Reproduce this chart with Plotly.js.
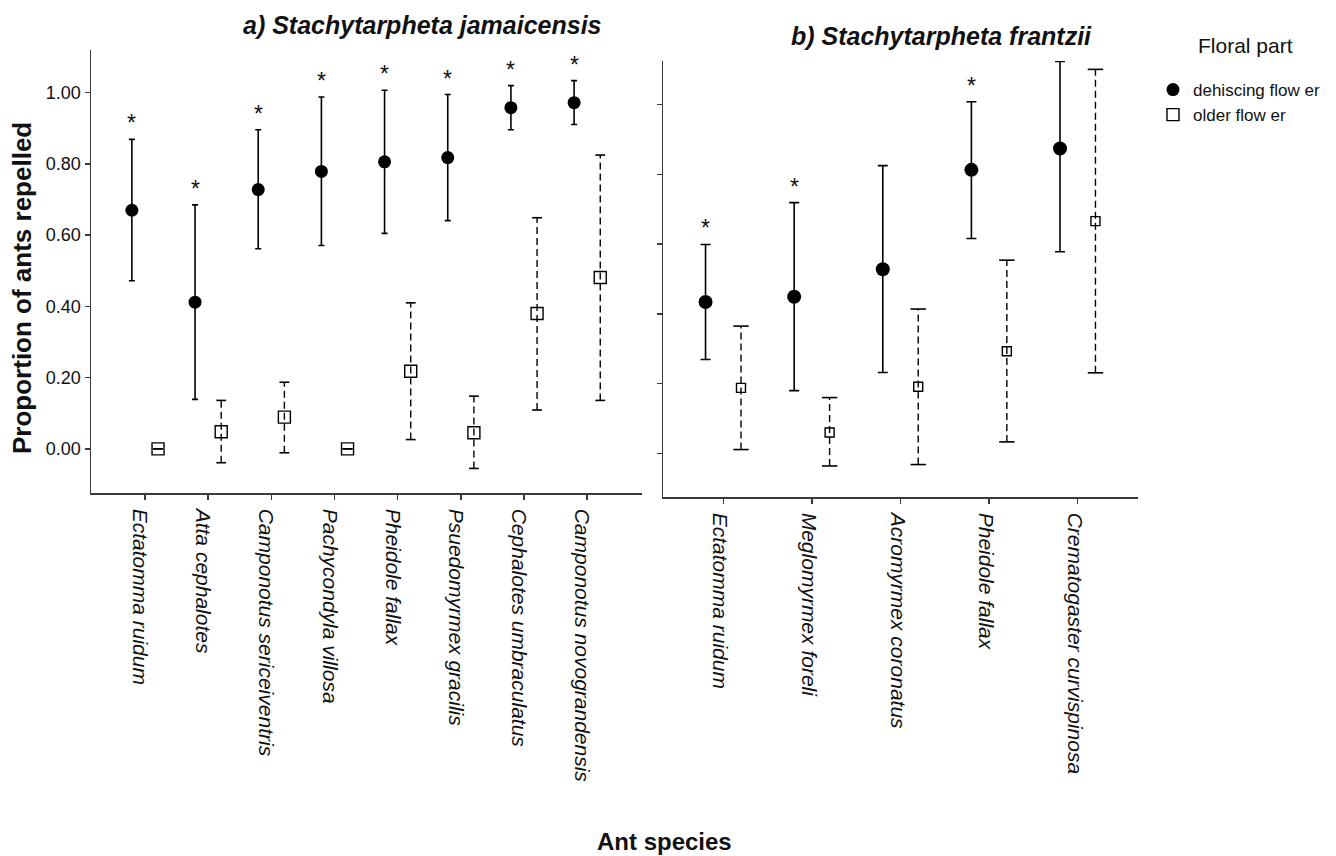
<!DOCTYPE html>
<html>
<head>
<meta charset="utf-8">
<script src="https://cdn.plot.ly/plotly-3.0.1.min.js"></script>
<style>
  html, body { margin: 0; padding: 0; background: #fff; }
  #chart { width: 1336px; height: 856px; }
</style>
</head>
<body>
<div id="chart"></div>
<script>
// ---------- Data ----------
const leftTitle = "a) Stachytarpheta jamaicensis";
const rightTitle = "b) Stachytarpheta frantzii";

const leftSpecies = ["Ectatomma ruidum", "Atta cephalotes", "Camponotus sericeiventris", "Pachycondyla villosa",
                     "Pheidole fallax", "Psuedomyrmex gracilis", "Cephalotes umbraculatus", "Camponotus novograndensis"];
const leftDehMean = [0.670, 0.412, 0.728, 0.779, 0.806, 0.818, 0.958, 0.972];
const leftDehLow  = [0.472, 0.139, 0.562, 0.571, 0.605, 0.641, 0.896, 0.911];
const leftDehHigh = [0.869, 0.685, 0.896, 0.988, 1.007, 0.995, 1.020, 1.034];
const leftOldMean = [0.000, 0.048, 0.089, 0.000, 0.218, 0.045, 0.380, 0.481];
const leftOldLow  = [0.000, -0.039, -0.011, 0.000, 0.026, -0.055, 0.109, 0.136];
const leftOldHigh = [0.000, 0.136, 0.187, 0.000, 0.410, 0.148, 0.649, 0.825];
const leftSig     = [true, true, true, true, true, true, true, true];

const rightSpecies = ["Ectatomma ruidum", "Meglomyrmex foreli", "Acromyrmex coronatus", "Pheidole fallax",
                      "Crematogaster curvispinosa"];
const rightDehMean = [0.434, 0.449, 0.528, 0.813, 0.874];
const rightDehLow  = [0.269, 0.180, 0.232, 0.616, 0.578];
const rightDehHigh = [0.599, 0.719, 0.825, 1.008, 1.124];
const rightOldMean = [0.188, 0.060, 0.191, 0.293, 0.666];
const rightOldLow  = [0.011, -0.036, -0.032, 0.033, 0.231];
const rightOldHigh = [0.365, 0.160, 0.414, 0.554, 1.101];
const rightSig     = [true, true, false, true, false];

const yTickVals = [0, 0.2, 0.4, 0.6, 0.8, 1.0];
const seriesNames = ["dehiscing flow er", "older flow er"];
const legendTitle = "Floral part";
const yTitle = "Proportion of ants repelled";
const xTitle = "Ant species";

// ---------- Helpers ----------
const W = 1336, H = 856;
const FONT = "Liberation Sans, Arial, Helvetica, sans-serif";
const INK = "#111";
const AXC = "#3a3a3a";

function idx(arr) { return arr.map((_, i) => i); }

function buildPanel(o) {
  const xa = o.xaxis, ya = o.yaxis;
  const ix = idx(o.species);
  const dehX = ix.map(i => i - o.offset);
  const oldX = ix.map(i => i + o.offset);
  const traces = [];
  // dehiscing flower: filled circles with solid CI bars
  traces.push({
    type: "scatter", mode: "markers", xaxis: xa, yaxis: ya,
    x: dehX, y: o.dehMean, name: seriesNames[0], legendgroup: "deh",
    showlegend: o.showLegend, cliponaxis: false, hoverinfo: "skip",
    marker: { symbol: "circle", size: o.circleSize, color: "#000" },
    error_y: {
      type: "data", symmetric: false,
      array: o.dehHigh.map((h, i) => h - o.dehMean[i]),
      arrayminus: o.dehMean.map((m, i) => m - o.dehLow[i]),
      color: "#000", thickness: 1.6, width: o.capHalf
    }
  });
  // older flower: dashed CI lines
  const lx = [], ly = [];
  ix.forEach(i => { lx.push(oldX[i], oldX[i], null); ly.push(o.oldLow[i], o.oldHigh[i], null); });
  traces.push({
    type: "scatter", mode: "lines", xaxis: xa, yaxis: ya, x: lx, y: ly,
    showlegend: false, cliponaxis: false, hoverinfo: "skip", legendgroup: "old",
    line: { color: "#000", width: 1.4, dash: "7px,4px" }
  });
  // older flower: caps
  traces.push({
    type: "scatter", mode: "markers", xaxis: xa, yaxis: ya,
    x: oldX.concat(oldX), y: o.oldLow.concat(o.oldHigh),
    showlegend: false, cliponaxis: false, hoverinfo: "skip", legendgroup: "old",
    marker: { symbol: "line-ew", size: o.capHalf * 2 + 1, line: { color: "#000", width: 1.6 } }
  });
  // older flower: open squares
  traces.push({
    type: "scatter", mode: "markers", xaxis: xa, yaxis: ya,
    x: oldX, y: o.oldMean, name: seriesNames[1], legendgroup: "old",
    showlegend: o.showLegend, cliponaxis: false, hoverinfo: "skip",
    marker: { symbol: "square-open", size: o.squareSize, color: "#000", line: { color: "#000", width: 1.4 } }
  });
  // significance asterisks
  const ann = [];
  ix.forEach(i => {
    if (o.sig[i]) {
      ann.push({
        xref: xa, yref: ya, x: dehX[i], y: o.dehHigh[i], text: "*",
        showarrow: false, yanchor: "middle", yshift: 16,
        font: { family: FONT, size: 23, color: INK }
      });
    }
  });
  return { traces, ann };
}

const left = buildPanel({
  xaxis: "x", yaxis: "y", species: leftSpecies, offset: 0.207,
  dehMean: leftDehMean, dehLow: leftDehLow, dehHigh: leftDehHigh,
  oldMean: leftOldMean, oldLow: leftOldLow, oldHigh: leftOldHigh, sig: leftSig,
  circleSize: 13, squareSize: 12, capHalf: 3, showLegend: true
});
const right = buildPanel({
  xaxis: "x2", yaxis: "y2", species: rightSpecies, offset: 0.2,
  dehMean: rightDehMean, dehLow: rightDehLow, dehHigh: rightDehHigh,
  oldMean: rightOldMean, oldLow: rightOldLow, oldHigh: rightOldHigh, sig: rightSig,
  circleSize: 14, squareSize: 9, capHalf: 5, showLegend: false
});

function px2x(p) { return p / W; }
function px2y(p) { return 1 - p / H; }

const axisCommon = {
  showline: true, linecolor: AXC, linewidth: 1.5, mirror: false,
  showgrid: false, zeroline: false, ticks: "outside", ticklen: 5,
  tickwidth: 1.5, tickcolor: AXC, fixedrange: true
};

const layout = {
  width: W, height: H,
  margin: { l: 0, r: 0, t: 0, b: 0, pad: 0 },
  paper_bgcolor: "#fff", plot_bgcolor: "#fff",
  font: { family: FONT, color: INK },
  showlegend: true,
  legend: {
    x: px2x(1153), xanchor: "left", y: px2y(72), yanchor: "top",
    bgcolor: "rgba(0,0,0,0)", borderwidth: 0,
    font: { family: FONT, size: 17, color: INK },
    itemwidth: 30, tracegroupgap: 0
  },
  xaxis: Object.assign({}, axisCommon, {
    domain: [px2x(91), px2x(641.5)], range: [-0.854, 7.86], anchor: "y",
    tickmode: "array", tickvals: idx(leftSpecies), ticktext: leftSpecies, tickangle: 90,
    ticklabelshift: -5, ticklabelstandoff: 5,
    tickfont: { family: FONT, size: 21, color: INK, style: "italic" }, automargin: false
  }),
  yaxis: Object.assign({}, axisCommon, {
    domain: [px2y(493), px2y(50)], range: [-0.124, 1.12], anchor: "x",
    tickmode: "array", tickvals: yTickVals, tickformat: ".2f",
    tickfont: { family: FONT, size: 18, color: INK }, automargin: false
  }),
  xaxis2: Object.assign({}, axisCommon, {
    domain: [px2x(663), px2x(1138)], range: [-0.68, 4.68], anchor: "y2",
    tickmode: "array", tickvals: idx(rightSpecies), ticktext: rightSpecies, tickangle: 90,
    ticklabelshift: -3, ticklabelstandoff: 5,
    tickfont: { family: FONT, size: 21, color: INK, style: "italic" }, automargin: false
  }),
  yaxis2: Object.assign({}, axisCommon, {
    domain: [px2y(497), px2y(61)], range: [-0.125, 1.125], anchor: "x2",
    tickmode: "array", tickvals: yTickVals, showticklabels: false, automargin: false
  }),
  annotations: [
    { xref: "paper", yref: "paper", x: px2x(422), y: px2y(25), text: "<b><i>" + leftTitle + "</i></b>",
      showarrow: false, xanchor: "center", yanchor: "middle", font: { family: FONT, size: 25, color: INK } },
    { xref: "paper", yref: "paper", x: px2x(941), y: px2y(36), text: "<b><i>" + rightTitle + "</i></b>",
      showarrow: false, xanchor: "center", yanchor: "middle", font: { family: FONT, size: 25, color: INK } },
    { xref: "paper", yref: "paper", x: px2x(22), y: px2y(288), text: "<b>" + yTitle + "</b>", textangle: -90,
      showarrow: false, xanchor: "center", yanchor: "middle", font: { family: FONT, size: 26, color: INK } },
    { xref: "paper", yref: "paper", x: px2x(664), y: px2y(841), text: "<b>" + xTitle + "</b>",
      showarrow: false, xanchor: "center", yanchor: "middle", font: { family: FONT, size: 24, color: INK } },
    { xref: "paper", yref: "paper", x: px2x(1245), y: px2y(45), text: legendTitle,
      showarrow: false, xanchor: "center", yanchor: "middle", font: { family: FONT, size: 21, color: INK } }
  ].concat(left.ann, right.ann)
};

Plotly.newPlot("chart", left.traces.concat(right.traces), layout, { staticPlot: true, displayModeBar: false });
</script>
</body>
</html>
